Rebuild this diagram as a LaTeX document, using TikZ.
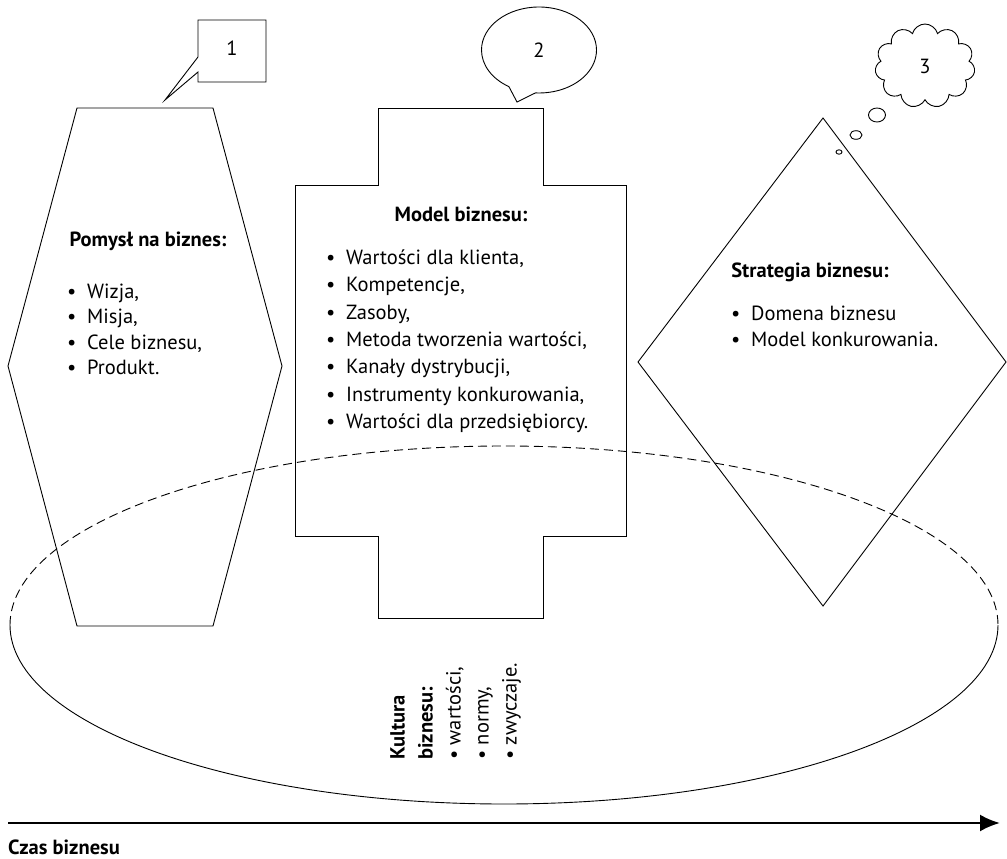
\documentclass[tikz,border=0pt]{standalone}
\usepackage{fontspec}
\setmainfont{PT Sans}
\usetikzlibrary{arrows.meta,shapes.symbols,shapes.callouts}

\tikzset{
  txt/.style={font=\fontsize{20.5}{27.5}\selectfont, inner sep=0pt},
  head/.style={inner sep=0pt, font=\fontsize{20.5}{27.5}\selectfont\bfseries},
  itm/.style={txt, anchor=base west},
  outline/.style={line width=0.9pt, line join=miter},
}
\newcommand{\blt}{\makebox[20pt][l]{\textbullet}}

\begin{document}
\begin{tikzpicture}[x=1pt, y=-1pt]
\useasboundingbox (0,0) rectangle (1007,859);

\draw[outline] (77,108) -- (213,108) -- (282,366) -- (213,626) -- (77,626) -- (8,366) -- cycle;
\node[head] (pomysl) at (148,241) {Pomysł na biznes:};
\foreach \t [count=\i] in {{Wizja,},{Misja,},{Cele biznesu,},{Produkt.}}
  \node[itm] (pomysl\i) at (67,{298+25.5*(\i-1)}) {\blt\t};

\draw[outline] (378,108) -- (543,108) -- (543,185) -- (626,185) -- (626,536) -- (543,536) -- (543,618)
  -- (378,618) -- (378,536) -- (295,536) -- (295,185) -- (378,185) -- cycle;
\node[head] (model) at (461,214) {Model biznesu:};
\foreach \t [count=\i] in {{Wartości dla klienta,},{Kompetencje,},{Zasoby,},{Metoda tworzenia wartości,},
    {Kanały dystrybucji,},{Instrumenty konkurowania,},{Wartości dla przedsiębiorcy.}}
  \node[itm] (model\i) at (326,{264.5+27.3*(\i-1)}) {\blt\t};

\draw[outline] (823,118) -- (1006,362) -- (823,606) -- (638,362) -- cycle;
\node[head] (strategia) at (810,272) {Strategia biznesu:};
\foreach \t [count=\i] in {{Domena biznesu},{Model konkurowania.}}
  \node[itm] (strategia\i) at (731,{320+26*(\i-1)}) {\blt\t};

\coordinate (tip1) at (165,100);
\draw[outline] (198,72) -- (tip1) -- (198,57) -- (198,20) -- (266,20) -- (266,82) -- (198,82) -- cycle;
\node[txt] (n1) at (232,48) {1};
\node[txt, draw, outline, ellipse callout, minimum width=115pt, minimum height=86pt,
  callout absolute pointer={(517,102)}, callout pointer arc=28] (n2) at (539,50) {2};
\node[txt, draw, outline, cloud, cloud puffs=11, cloud ignores aspect,
  minimum width=100pt, minimum height=84pt] (n3) at (925,66) {3};
\draw[outline] (877,115) ellipse [x radius=8.5, y radius=7];
\draw[outline] (856,135) ellipse [x radius=6, y radius=4.3];
\draw[outline] (839,152) ellipse [x radius=3, y radius=2.2];

\draw[outline, dash pattern=on 9pt off 5pt] (10,625) arc[start angle=180, end angle=360, x radius=494, y radius=179];
\draw[outline] (998,625) arc[start angle=0, end angle=180, x radius=494, y radius=179];
\node[txt, rotate=90, anchor=north west, align=left, font=\fontsize{20.5}{28}\selectfont] (kultura) at (390,760)
  {\textbf{Kultura}\\\textbf{biznesu:}\\\textbullet{} wartości,\\\textbullet{} normy,\\\textbullet{} zwyczaje.};

\coordinate (t0) at (8,823);
\coordinate (t1) at (1000,823);
\draw[line width=2.4pt, -{Latex[length=20pt,width=17pt]}] (t0) -- (t1);
\node[head, anchor=west] (czas) at (8,847) {Czas biznesu};
\end{tikzpicture}
\end{document}
